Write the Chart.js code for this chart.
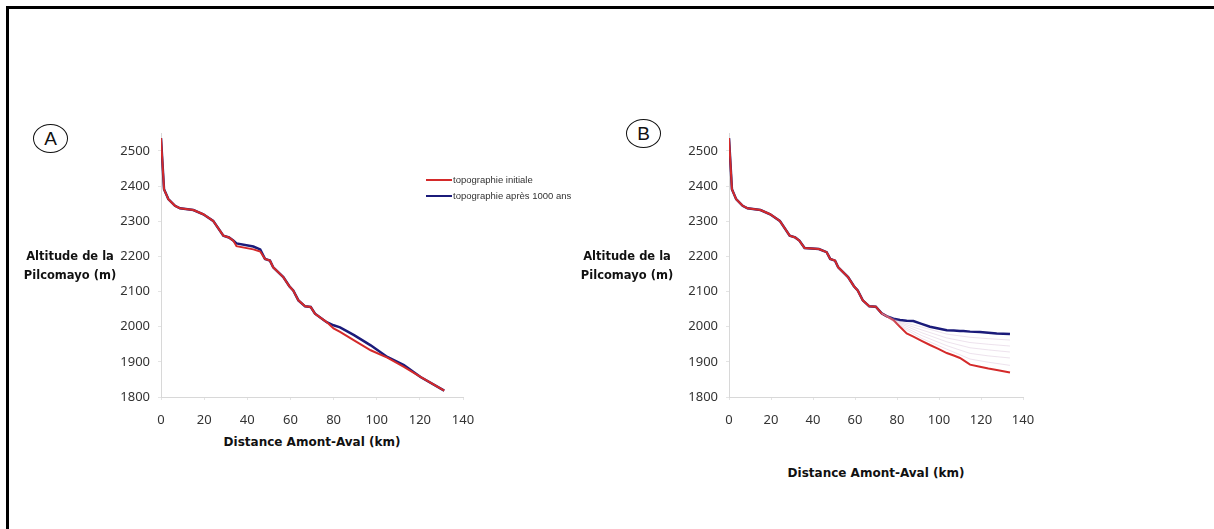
<!DOCTYPE html>
<html>
<head>
<meta charset="utf-8">
<script src="https://cdn.jsdelivr.net/npm/chart.js@4"></script>
<style>
  body { margin:0; background:#fff; width:1214px; height:529px; overflow:hidden; position:relative; font-family:"DejaVu Sans",sans-serif; }
  #frame { position:absolute; left:6px; top:6px; width:1300px; height:600px; border-top:3px solid #000; border-left:3px solid #000; }
  canvas { position:absolute; }
  .ytitle { position:absolute; width:110px; text-align:center; font-weight:bold; font-size:11.5px; line-height:19px; color:#111; }
  .xtitle { position:absolute; width:260px; text-align:center; font-weight:bold; font-size:12px; color:#111; }
  .circ { position:absolute; width:33px; height:27px; border:1.5px solid #111; border-radius:50%; text-align:center; line-height:27px; font-family:"Liberation Sans",Arial,sans-serif; font-size:19px; color:#111; }
  .leg { position:absolute; font-family:"Liberation Sans",Arial,sans-serif; font-size:9.5px; color:#333; }
  .leg span { display:inline-block; width:26px; height:2px; vertical-align:middle; margin-right:1px; }
</style>
</head>
<body>
<div id="frame"></div>
<canvas id="chartA" width="390" height="320" style="left:100px;top:110px"></canvas>
<canvas id="chartB" width="390" height="320" style="left:670px;top:110px"></canvas>

<div class="circ" style="left:33px;top:124px">A</div>
<div class="circ" style="left:626px;top:119px">B</div>

<div class="ytitle" style="left:15px;top:247px">Altitude de la<br>Pilcomayo (m)</div>
<div class="ytitle" style="left:572px;top:247px">Altitude de la<br>Pilcomayo (m)</div>

<div class="xtitle" style="left:182px;top:435px">Distance Amont-Aval (km)</div>
<div class="xtitle" style="left:746px;top:466px">Distance Amont-Aval (km)</div>

<div class="leg" style="left:426px;top:174px"><span style="background:#d42a2a"></span>topographie initiale</div>
<div class="leg" style="left:426px;top:190px"><span style="background:#1b1b7a"></span>topographie après 1000 ans</div>

<script>
// profil A (km, m)
const distA = [0, 1.4, 3.4, 6.5, 8.8, 15, 19.6, 24.2, 28.9, 31.5, 33.5, 35, 42.8, 46, 48.2, 50.5, 52, 56.7, 59.5, 61.3, 63.7, 66.8, 69.4, 71.4, 76.8, 80, 83, 89.5, 97.2, 104.9, 112.6, 120.3, 131.3];
const initialA = [2537, 2391, 2363, 2344, 2337, 2332, 2320, 2301, 2259, 2254, 2245, 2229, 2220, 2214, 2193, 2188, 2169, 2141, 2115, 2103, 2075, 2058, 2056, 2037, 2013, 1995, 1985, 1961, 1933, 1912, 1886, 1857, 1818];
const finalA   = [2537, 2391, 2363, 2344, 2337, 2332, 2320, 2301, 2259, 2254, 2245, 2237, 2228, 2220, 2193, 2188, 2169, 2141, 2115, 2103, 2075, 2058, 2056, 2037, 2013, 2004, 1998, 1976, 1947, 1914, 1891, 1857, 1818];

// profil B (km, m)
const distB = [0, 1.4, 3.4, 6.5, 8.8, 15, 19.6, 24.2, 28.9, 31.5, 33.5, 36, 42.8, 46.5, 48.2, 50.5, 52, 56.7, 59.5, 61.3, 63.7, 66.8, 69.9, 72.7, 75, 78.3, 81.4, 84.6, 87.8, 91.7, 95.7, 99.7, 103.7, 107, 110, 111.6, 114.8, 119.5, 123.5, 127.5, 133.8];
const initialB = [2537, 2391, 2363, 2344, 2337, 2332, 2320, 2301, 2259, 2254, 2245, 2224, 2221, 2212, 2193, 2188, 2169, 2141, 2115, 2103, 2075, 2058, 2057, 2038, 2030, 2019, 2000, 1981, 1972, 1960, 1948, 1937, 1925, 1918, 1911, 1905, 1892, 1886, 1881, 1877, 1870];
const finalB   = [2537, 2391, 2363, 2344, 2337, 2332, 2320, 2301, 2259, 2254, 2245, 2224, 2221, 2212, 2193, 2188, 2169, 2141, 2115, 2103, 2075, 2058, 2057, 2038, 2030, 2023, 2019, 2017, 2016, 2008, 2000, 1995, 1990, 1989, 1988, 1988, 1986, 1985, 1983, 1981, 1979];

// étapes intermédiaires (B)
const stepDist = [72.7, 81.4, 91.7, 103.7, 114.8, 123.5, 133.8];
const step1 = [2038, 2015, 1999, 1979, 1970, 1966, 1962];
const step2 = [2038, 2012, 1991, 1968, 1955, 1950, 1945];
const step3 = [2038, 2009, 1983, 1957, 1940, 1934, 1928];
const step4 = [2038, 2005, 1975, 1946, 1924, 1917, 1911];
const step5 = [2038, 2002, 1967, 1936, 1908, 1899, 1890];

const xTicks = [0, 20, 40, 60, 80, 100, 120, 140];
const yTicks = [1800, 1900, 2000, 2100, 2200, 2300, 2400, 2500];

const RED = '#d42a2a';
const BLUE = '#1b1b7a';
const TICK_FONT = { family: '"Noto Sans","DejaVu Sans"', size: 13 };

function pts(xs, ys) { return xs.map((x, i) => ({x: x, y: ys[i]})); }

function line(data, color, width) {
  return { data: data, borderColor: color, borderWidth: width, pointRadius: 0, fill: false, tension: 0 };
}

function makeChart(id, datasets, pad) {
  new Chart(document.getElementById(id), {
    type: 'line',
    data: { datasets: datasets },
    options: {
      responsive: false,
      animation: false,
      events: [],
      layout: { padding: pad },
      plugins: { legend: { display: false }, tooltip: { enabled: false } },
      scales: {
        x: {
          type: 'linear', min: 0, max: 140,
          afterBuildTicks: s => { s.ticks = xTicks.map(v => ({value: v})); },
          afterFit: s => { s.height = 33; },
          grid: { drawOnChartArea: false, drawTicks: true, tickLength: 3, color: '#e4e4e4' },
          border: { color: '#d8d8d8', dash: [2, 2] },
          ticks: { color: '#333', padding: 12, maxRotation: 0, font: TICK_FONT, callback: v => String(v) }
        },
        y: {
          min: 1800, max: 2550,
          afterBuildTicks: s => { s.ticks = yTicks.map(v => ({value: v})); },
          afterFit: s => { s.width = 50; },
          grid: { drawOnChartArea: false, drawTicks: true, tickLength: 3, color: '#e4e4e4' },
          border: { color: '#d8d8d8', dash: [2, 2] },
          ticks: { color: '#333', padding: 8, font: TICK_FONT, callback: v => String(v) }
        }
      }
    }
  });
}

makeChart('chartA', [
  line(pts(distA, initialA), RED, 2),
  line(pts(distA, finalA), BLUE, 2.5)
], { left: 11, top: 23.4, right: 27, bottom: 0 });

const faint = 'rgba(190,150,190,0.35)';
makeChart('chartB', [
  line(pts(stepDist, step1), faint, 0.8),
  line(pts(stepDist, step2), faint, 0.8),
  line(pts(stepDist, step3), faint, 0.8),
  line(pts(stepDist, step4), faint, 0.8),
  line(pts(stepDist, step5), faint, 0.8),
  line(pts(distB, initialB), RED, 2),
  line(pts(distB, finalB), BLUE, 2.5)
], { left: 9, top: 23.4, right: 37, bottom: 0 });
</script>
</body>
</html>
